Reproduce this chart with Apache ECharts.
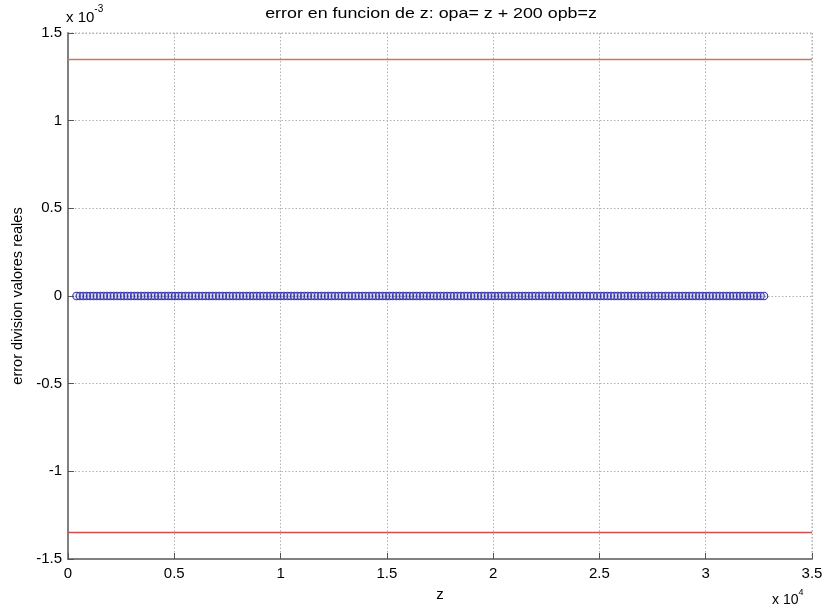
<!DOCTYPE html>
<html>
<head>
<meta charset="utf-8">
<script src="https://cdn.jsdelivr.net/npm/echarts@6/dist/echarts.min.js"></script>
<style>html,body{margin:0;padding:0;background:#fff;}#c{width:827px;height:610px;}</style>
</head>
<body>
<div id="c"></div>
<script>
// z values (x axis)
var zVals = [
400,560,720,880,1040,1200,1360,1520,1680,1840,2000,2160,2320,2480,2640,2800,2960,3120,3280,3440,3600,3760,3920,4080,4240,
4400,4560,4720,4880,5040,5200,5360,5520,5680,5840,6000,6160,6320,6480,6640,6800,6960,7120,7280,7440,7600,7760,7920,8080,8240,
8400,8560,8720,8880,9040,9200,9360,9520,9680,9840,10000,10160,10320,10480,10640,10800,10960,11120,11280,11440,11600,11760,11920,12080,12240,
12400,12560,12720,12880,13040,13200,13360,13520,13680,13840,14000,14160,14320,14480,14640,14800,14960,15120,15280,15440,15600,15760,15920,16080,16240,
16400,16560,16720,16880,17040,17200,17360,17520,17680,17840,18000,18160,18320,18480,18640,18800,18960,19120,19280,19440,19600,19760,19920,20080,20240,
20400,20560,20720,20880,21040,21200,21360,21520,21680,21840,22000,22160,22320,22480,22640,22800,22960,23120,23280,23440,23600,23760,23920,24080,24240,
24400,24560,24720,24900,25060,25220,25380,25540,25700,25860,26020,26180,26340,26500,26660,26820,26980,27140,27300,27460,27620,27780,27940,28100,28260,
28420,28580,28740,28900,29060,29220,29380,29540,29700,29860,30020,30180,30340,30500,30660,30820,30980,31140,31300,31460,31620,31780,31940,32100,32260,
32420,32580,32740
];
// error values (units of 1e-3)
var errVals = [
0,0,0,0,0,0,0,0,0,0,0,0,0,0,0,0,0,0,0,0,0,0,0,0,0,
0,0,0,0,0,0,0,0,0,0,0,0,0,0,0,0,0,0,0,0,0,0,0,0,0,
0,0,0,0,0,0,0,0,0,0,0,0,0,0,0,0,0,0,0,0,0,0,0,0,0,
0,0,0,0,0,0,0,0,0,0,0,0,0,0,0,0,0,0,0,0,0,0,0,0,0,
0,0,0,0,0,0,0,0,0,0,0,0,0,0,0,0,0,0,0,0,0,0,0,0,0,
0,0,0,0,0,0,0,0,0,0,0,0,0,0,0,0,0,0,0,0,0,0,0,0,0,
0,0,0,0,0,0,0,0,0,0,0,0,0,0,0,0,0,0,0,0,0,0,0,0,0,
0,0,0,0,0,0,0,0,0,0,0,0,0,0,0,0,0,0,0,0,0,0,0,0,0,
0,0,0
];
// horizontal limit lines (units of 1e-3)
var upperLimit = 1.355;
var lowerLimit = -1.355;
// tick labels
var xTickLabels = ['0','0.5','1','1.5','2','2.5','3','3.5'];
var yTickLabels = ['-1.5','-1','-0.5','0','0.5','1','1.5'];

var points = zVals.map(function(z, i){ return [z, errVals[i]]; });

var chart = echarts.init(document.getElementById('c'));
var font = 'Liberation Sans, Arial, Helvetica, sans-serif';
chart.setOption({
  animation: false,
  backgroundColor: '#fff',
  grid: {left: 68, right: 15, top: 33, bottom: 51},
  xAxis: {
    type: 'value', min: 0, max: 35000, interval: 5000,
    name: 'z', nameLocation: 'middle', nameGap: 28,
    nameTextStyle: {fontFamily: font, fontSize: 15, color: '#000'},
    axisLine: {show: true, onZero: false, lineStyle: {color: '#808080', width: 2}},
    axisTick: {show: true, inside: true, length: 6, lineStyle: {color: '#555'}},
    axisLabel: {fontFamily: font, fontSize: 15, color: '#000', margin: 7,
      formatter: function(v){ return xTickLabels[Math.round(v/5000)]; }},
    splitLine: {show: true, lineStyle: {color: '#b0b0b0', type: [1.5, 2], width: 1}}
  },
  yAxis: {
    type: 'value', min: -1.5, max: 1.5, interval: 0.5,
    name: 'error division valores reales', nameLocation: 'middle', nameGap: 38,
    nameTextStyle: {fontFamily: font, fontSize: 14.5, color: '#000'},
    axisLine: {show: true, onZero: false, lineStyle: {color: '#808080', width: 2}},
    axisTick: {show: true, inside: true, length: 6, lineStyle: {color: '#555'}},
    axisLabel: {fontFamily: font, fontSize: 15, color: '#000', margin: 6,
      formatter: function(v){ return yTickLabels[Math.round(v/0.5)+3]; }},
    splitLine: {show: true, lineStyle: {color: '#b0b0b0', type: [1.5, 2], width: 1}}
  },
  graphic: [
    {type: 'text', x: 431, y: 6, scaleX: 1.23, originX: 0, style: {
      text: 'error en funcion de z: opa= z + 200 opb=z', align: 'center',
      fontFamily: font, fontSize: 14.5, fill: '#000'
    }},
    {type: 'text', left: 66, top: 4, style: {
      text: '{a|x 10}{b|-3}', fill: '#000',
      rich: {a: {fontFamily: font, fontSize: 15, fill: '#000', padding:[6,0,0,0]}, b: {fontFamily: font, fontSize: 10, fill: '#000', verticalAlign: 'top'}}
    }},
    {type: 'text', left: 772, top: 588, style: {
      text: '{a|x 10}{b|4}', fill: '#000',
      rich: {a: {fontFamily: font, fontSize: 14, fill: '#000', padding:[5,0,0,0]}, b: {fontFamily: font, fontSize: 9, fill: '#000', verticalAlign: 'top'}}
    }},
    {type: 'line', shape: {x1: 68, y1: 33, x2: 812, y2: 33}, style: {stroke: '#b0b0b0', lineDash: [1.5, 2]}},
    {type: 'line', shape: {x1: 812, y1: 33, x2: 812, y2: 559}, style: {stroke: '#b0b0b0', lineDash: [1.5, 2]}}
  ],
  series: [
    {
      type: 'line', data: [], silent: true,
      markLine: {
        symbol: 'none', silent: true, label: {show: false},
        lineStyle: {color: '#c87a5c', width: 1.3, type: 'solid'},
        data: [{yAxis: upperLimit}]
      }
    },
    {
      type: 'line', data: [], silent: true,
      markLine: {
        symbol: 'none', silent: true, label: {show: false},
        lineStyle: {color: '#d44c4c', width: 1.3, type: 'solid'},
        data: [{yAxis: lowerLimit}]
      }
    },
    {
      type: 'scatter', data: points, symbol: 'circle', symbolSize: 7.5,
      itemStyle: {color: 'rgba(90,90,200,0.12)', borderColor: '#3535a8', borderWidth: 1.1, opacity: 1}
    }
  ]
});
</script>
</body>
</html>
